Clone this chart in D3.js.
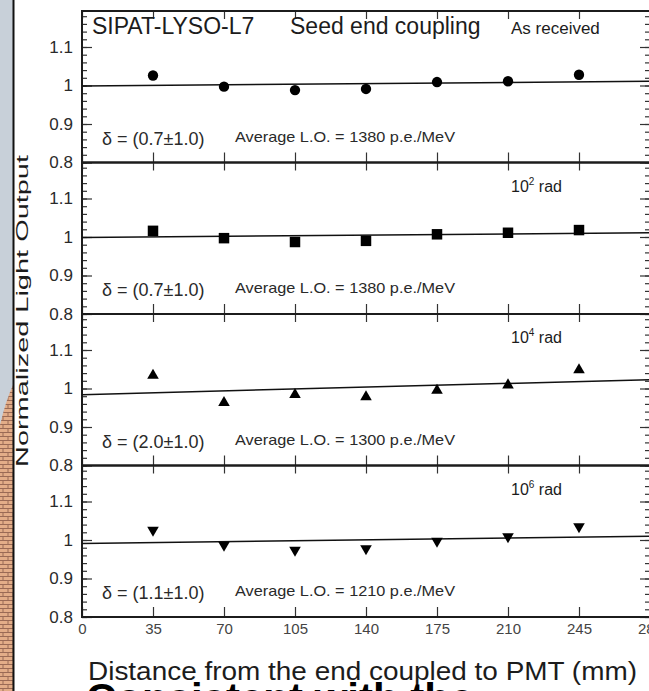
<!DOCTYPE html>
<html>
<head>
<meta charset="utf-8">
<script src="https://cdn.jsdelivr.net/npm/d3@7"></script>
<style>
body{margin:0;background:#fff;}
svg{display:block;}
</style>
</head>
<body>
<div id="chart"></div>
<script>
// values
const positions = [35, 70, 105, 140, 175, 210, 245];
const x_ticks = [0, 35, 70, 105, 140, 175, 210, 245, 280];
const y_ticks = [0.8, 0.9, 1, 1.1];
const dose_base = ["As received", "10", "10", "10"];
const dose_exp = ["", "2", "4", "6"];
const deltas = ["(0.7\u00b11.0)", "(0.7\u00b11.0)", "(2.0\u00b11.0)", "(1.1\u00b11.0)"];
const avg_lo = [1380, 1380, 1300, 1210];
const lo_as_received = [1.026, 0.997, 0.988, 0.991, 1.009, 1.011, 1.028];
const lo_1e2 = [1.016, 0.997, 0.987, 0.990, 1.007, 1.011, 1.018];
const lo_1e4 = [1.034, 0.963, 0.984, 0.978, 0.995, 1.009, 1.048];
const lo_1e6 = [1.026, 0.987, 0.974, 0.978, 0.997, 1.009, 1.035];
const fit_ends = [[0.999, 1.011], [0.999, 1.011], [0.984, 1.023], [0.991, 1.010]]; // at 0 and 280 mm
const markers = ["circle", "square", "up", "down"];

const series = [lo_as_received, lo_1e2, lo_1e4, lo_1e6];

const width = 649, height = 691;
const font = "'Liberation Sans', Arial, Helvetica, sans-serif";
const ink = "#1c1c1c";

const svg = d3.select("#chart").append("svg")
    .attr("width", width)
    .attr("height", height)
    .style("font-family", font);

svg.append("rect").attr("width", width).attr("height", height).attr("fill", "#fff");

const x = d3.scaleLinear().domain([0, 280]).range([82, 650]);
const panel_h = 151.5;
const top0 = 11;
const minor = d3.range(0.8, 1.19, 0.02);

function symbolFor(m){
    if(m === "circle") return d3.symbol(d3.symbolCircle, 84)();
    if(m === "square") return d3.symbol(d3.symbolSquare, 110)();
    return d3.symbol(d3.symbolTriangle, 58)();
}

series.forEach((vals, i) => {
    const top = top0 + i*panel_h;
    const bottom = top + panel_h;
    const y = d3.scaleLinear().domain([0.8, 0.8 + panel_h/385]).range([bottom, top]);
    const g = svg.append("g");

    // ticks: left & right (inward)
    const tickStyle = sel => {
        sel.select(".domain").remove();
        sel.selectAll("line").attr("stroke", "#333").attr("stroke-width", 1.2);
    };
    g.append("g").attr("transform", "translate(" + x(0) + ",0)")
        .call(d3.axisRight(y).tickValues(minor).tickSize(5).tickFormat(""))
        .call(tickStyle);
    g.append("g").attr("transform", "translate(" + x(0) + ",0)")
        .call(d3.axisRight(y).tickValues(y_ticks).tickSize(10).tickFormat(""))
        .call(tickStyle);
    g.append("g").attr("transform", "translate(" + x(280) + ",0)")
        .call(d3.axisLeft(y).tickValues(minor).tickSize(5).tickFormat(""))
        .call(tickStyle);
    g.append("g").attr("transform", "translate(" + x(280) + ",0)")
        .call(d3.axisLeft(y).tickValues(y_ticks).tickSize(10).tickFormat(""))
        .call(tickStyle);

    // y tick labels
    const yl = g.append("g").attr("transform", "translate(" + x(0) + ",0)")
        .call(d3.axisLeft(y).tickValues(y_ticks).tickSize(0).tickPadding(9)
            .tickFormat(d => d === 1 ? "1" : d3.format(".1f")(d)));
    yl.select(".domain").remove();
    yl.selectAll("text").attr("font-family", font).attr("font-size", 17).attr("fill", "#2a2a2a");

    // x ticks top & bottom
    g.append("g").attr("transform", "translate(0," + bottom + ")")
        .call(d3.axisTop(x).tickValues(x_ticks).tickSize(10).tickFormat(""))
        .call(tickStyle);
    g.append("g").attr("transform", "translate(0," + top + ")")
        .call(d3.axisBottom(x).tickValues(x_ticks).tickSize(8).tickFormat(""))
        .call(tickStyle);

    // frame
    g.append("rect")
        .attr("x", x(0)).attr("y", top)
        .attr("width", x(280) - x(0)).attr("height", panel_h)
        .attr("fill", "none").attr("stroke", ink).attr("stroke-width", 2);

    // fit line
    g.append("line")
        .attr("x1", x(0)).attr("y1", y(fit_ends[i][0]))
        .attr("x2", x(280)).attr("y2", y(fit_ends[i][1]))
        .attr("stroke", "#111").attr("stroke-width", 1.5);

    // points
    g.selectAll("path.pt").data(vals).join("path")
        .attr("class", "pt")
        .attr("d", symbolFor(markers[i]))
        .attr("transform", (d, j) => "translate(" + x(positions[j]) + "," + y(d) + ")" +
            (markers[i] === "down" ? " rotate(180)" : ""))
        .attr("fill", "#000");

    // dose label
    const dl = g.append("text")
        .attr("x", 511).attr("y", top + (i === 0 ? 23 : 29))
        .attr("font-size", i === 0 ? 17 : 16).attr("fill", ink)
        .text(dose_base[i]);
    if(dose_exp[i]){
        dl.append("tspan").attr("dy", -7).attr("font-size", 10).text(dose_exp[i]);
        dl.append("tspan").attr("dy", 7).text(" rad");
    }

    // delta and average light output
    g.append("text")
        .attr("x", 102).attr("y", bottom - 18)
        .attr("font-size", 18).attr("fill", "#2a2a2a")
        .text("\u03b4 = " + deltas[i]);
    g.append("text")
        .attr("x", 235).attr("y", bottom - 21)
        .attr("font-size", 15).attr("fill", "#2a2a2a")
        .attr("textLength", 220).attr("lengthAdjust", "spacingAndGlyphs")
        .text("Average L.O. = " + avg_lo[i] + " p.e./MeV");
});

// panel 1 title
svg.append("text").attr("x", 92).attr("y", 34).attr("font-size", 23).attr("fill", ink)
    .text("SIPAT-LYSO-L7");
svg.append("text").attr("x", 290).attr("y", 34).attr("font-size", 23).attr("fill", ink)
    .text("Seed end coupling");

// x tick labels on bottom panel
const xl = svg.append("g").attr("transform", "translate(0," + (top0 + 4*panel_h) + ")")
    .call(d3.axisBottom(x).tickValues(x_ticks).tickSize(0).tickPadding(6));
xl.select(".domain").remove();
xl.selectAll("text").attr("font-family", font).attr("font-size", 15).attr("fill", "#444");

// axis titles
svg.append("text")
    .attr("x", 88).attr("y", 680)
    .attr("font-size", 25).attr("fill", ink)
    .attr("textLength", 549).attr("lengthAdjust", "spacingAndGlyphs")
    .text("Distance from the end coupled to PMT (mm)");

svg.append("text")
    .attr("transform", "translate(28,311) rotate(-90)")
    .attr("text-anchor", "middle")
    .attr("font-size", 17).attr("fill", ink)
    .attr("textLength", 312).attr("lengthAdjust", "spacingAndGlyphs")
    .text("Normalized Light Output");

// slide overlay: left strip with brick decoration
const defs = svg.append("defs");
const pat = defs.append("pattern").attr("id", "bricks")
    .attr("patternUnits", "userSpaceOnUse").attr("width", 10).attr("height", 8);
pat.append("rect").attr("width", 10).attr("height", 8).attr("fill", "#e3ad88");
pat.append("path")
    .attr("d", "M0,0.5H10M0,4.5H10M3,0.5V4.5M8,4.5V8")
    .attr("stroke", "#9a6a55").attr("stroke-width", 1).attr("fill", "none");

svg.append("rect").attr("x", 0).attr("y", 0).attr("width", 13).attr("height", height).attr("fill", "#c8d0d9");
svg.append("path")
    .attr("d", "M0,425 Q6,400 13,385 L13,691 L0,691 Z")
    .attr("fill", "url(#bricks)");
svg.append("line").attr("x1", 13.5).attr("x2", 13.5).attr("y1", 0).attr("y2", height)
    .attr("stroke", "#111").attr("stroke-width", 2);

// slide text peeking in from below
svg.append("text")
    .attr("x", 86).attr("y", 713)
    .attr("font-size", 42).attr("font-weight", "bold").attr("fill", "#000")
    .text("Consistent with the");
</script>
</body>
</html>
